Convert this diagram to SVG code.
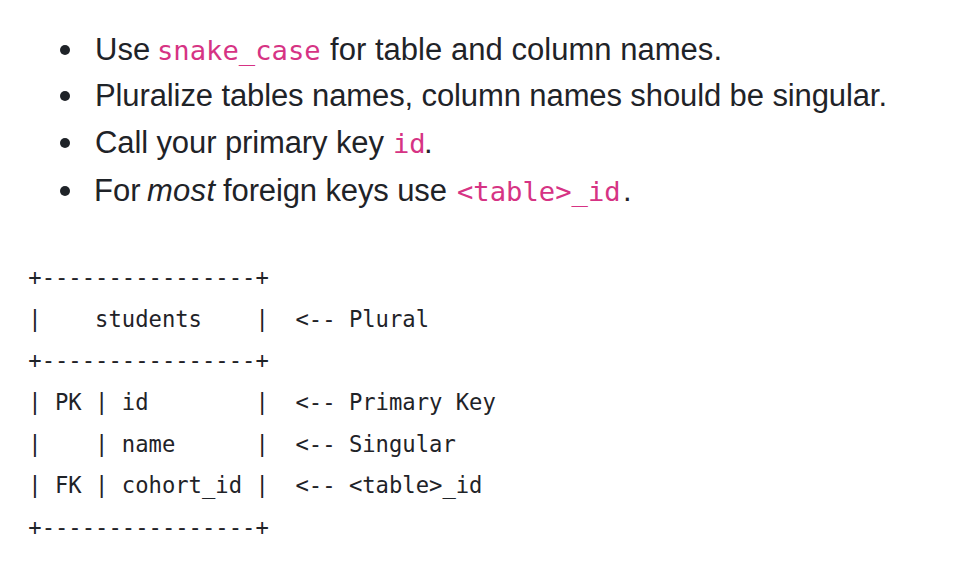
<svg xmlns="http://www.w3.org/2000/svg" width="966" height="566" viewBox="0 0 966 566">
<style>
.body{font-family:"Liberation Sans","Noto Sans",Arial,sans-serif;font-size:31px;fill:#1f2328}
.code{font-family:"DejaVu Sans Mono","Liberation Mono",monospace;font-size:27.2px;fill:#d63384}
.pre{font-family:"DejaVu Sans Mono","Liberation Mono",monospace;font-size:22.2px;fill:#1f2328;white-space:pre}
.dot{fill:#1f2328}
</style>
<rect width="966" height="566" fill="#ffffff"/>
<g id="bullets">
<circle class="dot" cx="65" cy="50" r="5"/>
<circle class="dot" cx="65" cy="96" r="5"/>
<circle class="dot" cx="65" cy="143" r="5"/>
<circle class="dot" cx="65" cy="191" r="5"/>
<text class="body" x="95" y="60">Use</text>
<text class="code" x="157" y="60">snake_case</text>
<text class="body" x="330" y="60" textLength="392">for table and column names.</text>
<text class="body" x="95" y="106" textLength="792">Pluralize tables names, column names should be singular.</text>
<text class="body" x="95" y="153" textLength="289">Call your primary key</text>
<text class="code" x="393" y="153">id</text>
<text class="body" x="424" y="153">.</text>
<text class="body" x="94" y="201">For</text>
<text class="body" x="147" y="201" font-style="italic" textLength="68">most</text>
<text class="body" x="223" y="201" textLength="224">foreign keys use</text>
<text class="code" x="457" y="201">&lt;table&gt;_id</text>
<text class="body" x="623" y="201">.</text>
</g>
<g id="table" xml:space="preserve">
<text class="pre" x="28.3" y="285">+----------------+</text>
<text class="pre" x="28.3" y="326.7">|    students    |  &lt;-- Plural</text>
<text class="pre" x="28.3" y="368.3">+----------------+</text>
<text class="pre" x="28.3" y="410">| PK | id        |  &lt;-- Primary Key</text>
<text class="pre" x="28.3" y="451.7">|    | name      |  &lt;-- Singular</text>
<text class="pre" x="28.3" y="493.3">| FK | cohort_id |  &lt;-- &lt;table&gt;_id</text>
<text class="pre" x="28.3" y="535">+----------------+</text>
</g>
</svg>
